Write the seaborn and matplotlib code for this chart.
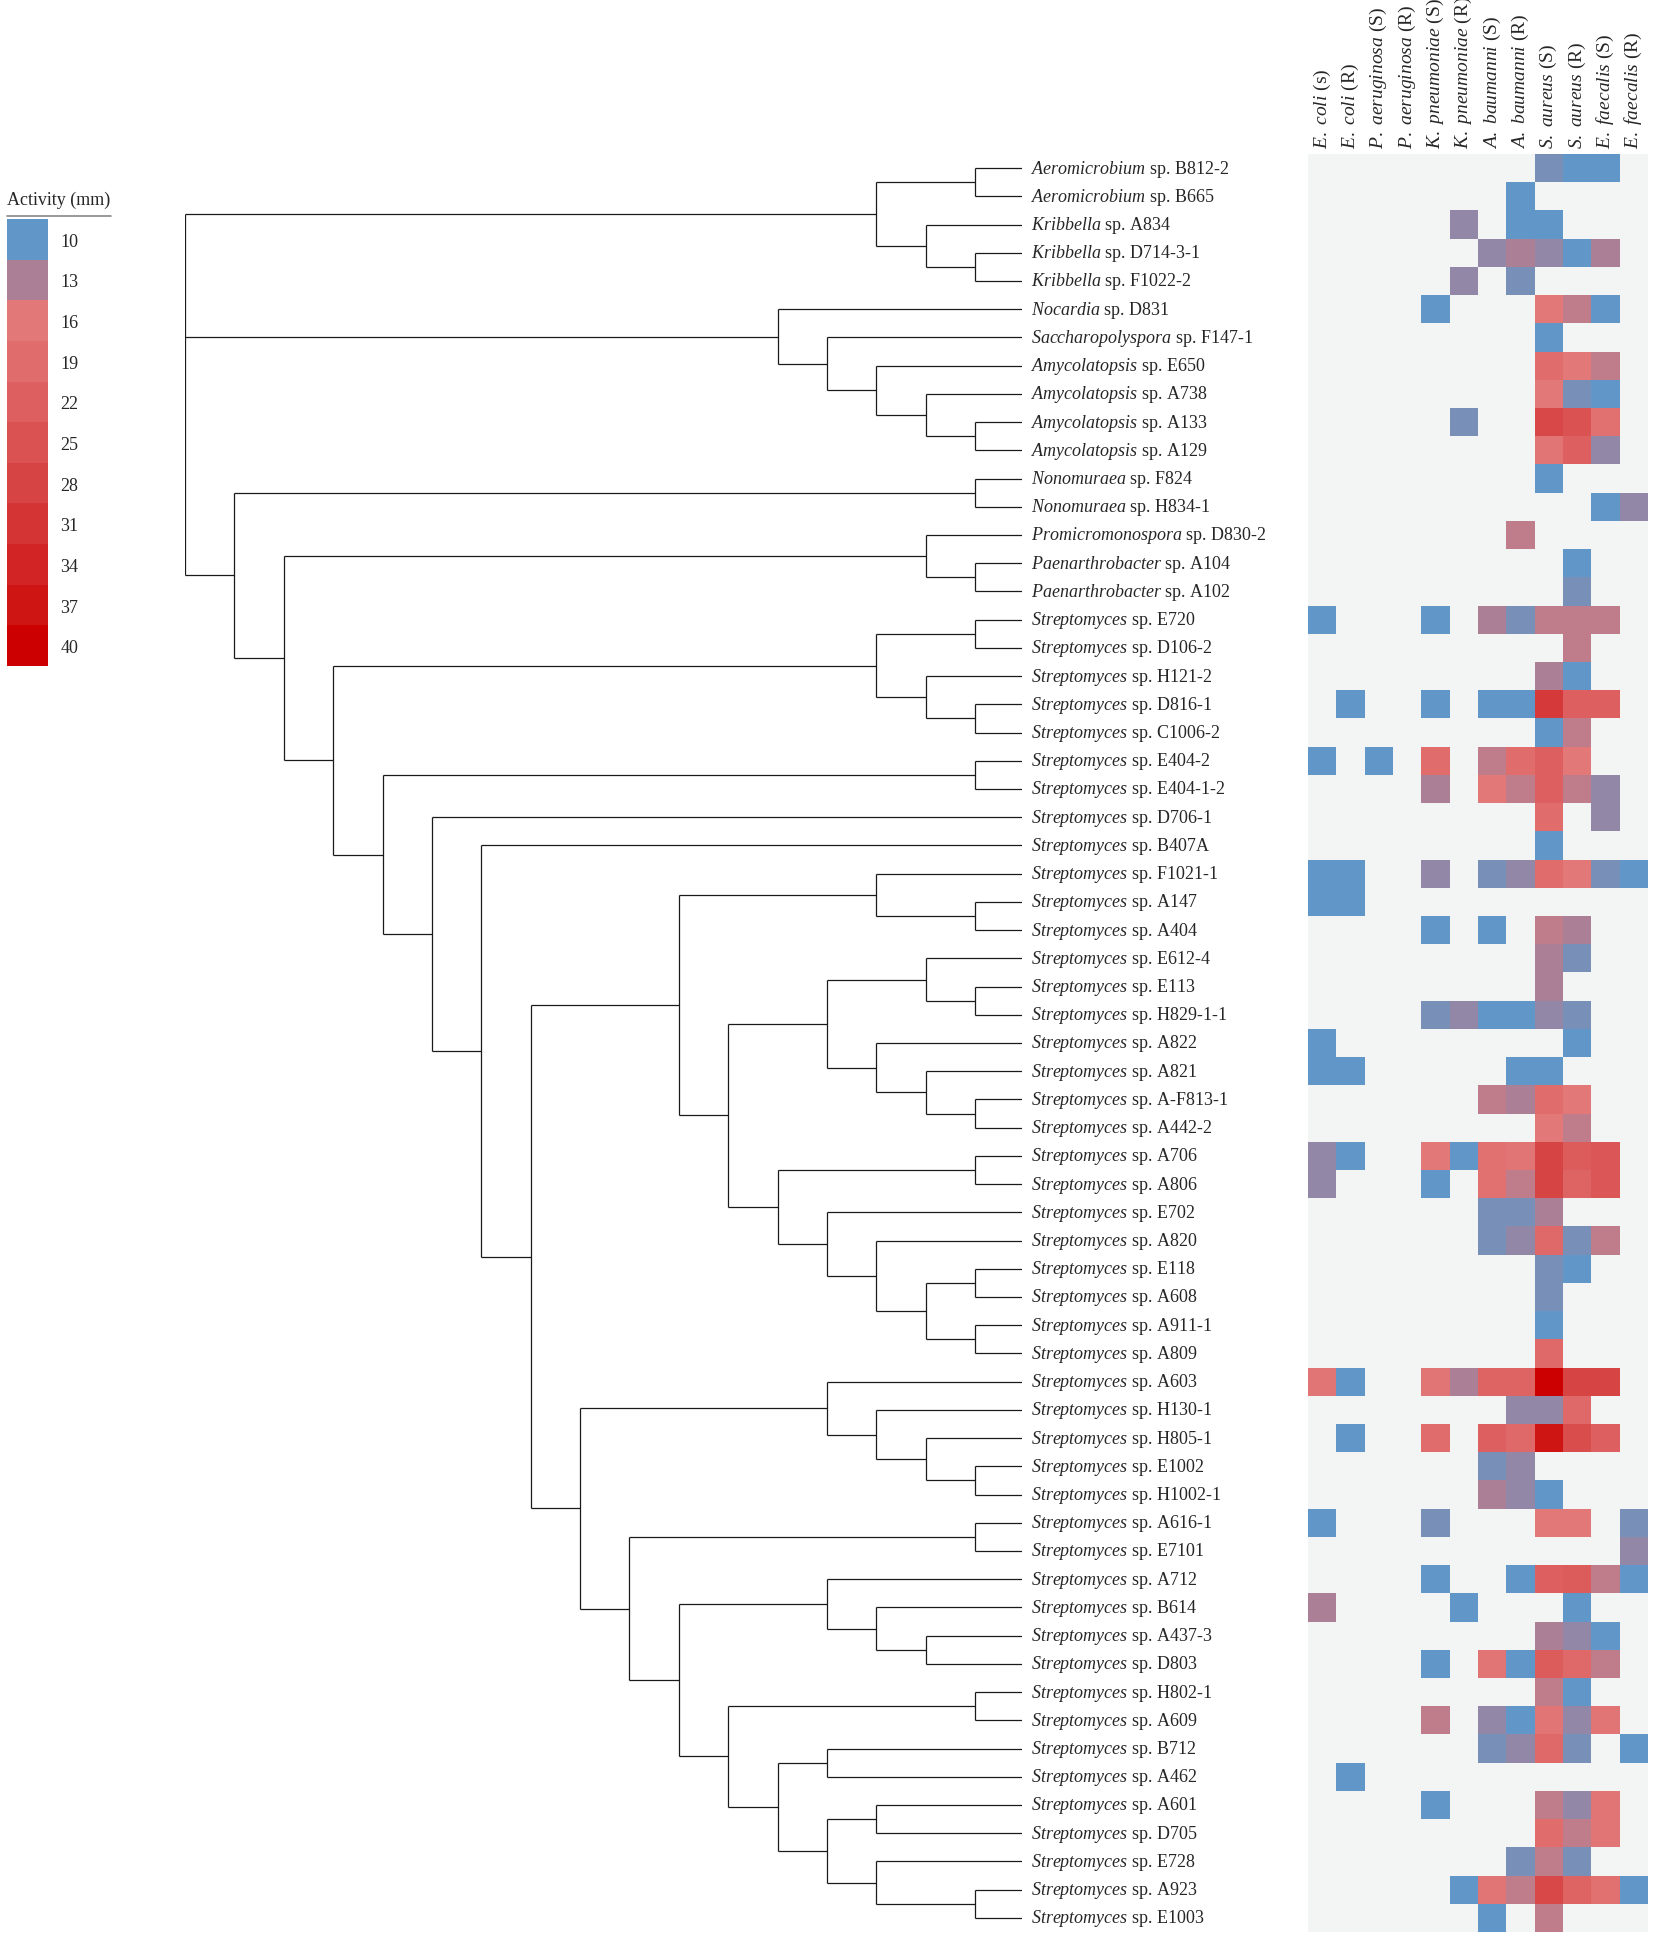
import numpy as np
import pandas as pd
import matplotlib
matplotlib.use("Agg")
import matplotlib.pyplot as plt
import seaborn as sns
from matplotlib.colors import LinearSegmentedColormap
from matplotlib.lines import Line2D

sns.set_style("white")
plt.rcParams["font.family"] = ["Liberation Serif", "DejaVu Serif"]
plt.rcParams["mathtext.fontset"] = "custom"
plt.rcParams["mathtext.rm"] = "Liberation Serif"
plt.rcParams["mathtext.it"] = "Liberation Serif:italic"

_ = np.nan

# ---- strains (rows, top to bottom) ----
genus = (["Aeromicrobium"] * 2 + ["Kribbella"] * 3 + ["Nocardia", "Saccharopolyspora"]
         + ["Amycolatopsis"] * 4 + ["Nonomuraea"] * 2 + ["Promicromonospora"]
         + ["Paenarthrobacter"] * 2 + ["Streptomyces"] * 47)
strain = ["B812-2", "B665", "A834", "D714-3-1", "F1022-2", "D831", "F147-1", "E650", "A738",
          "A133", "A129", "F824", "H834-1", "D830-2", "A104", "A102", "E720", "D106-2",
          "H121-2", "D816-1", "C1006-2", "E404-2", "E404-1-2", "D706-1", "B407A", "F1021-1",
          "A147", "A404", "E612-4", "E113", "H829-1-1", "A822", "A821", "A-F813-1", "A442-2",
          "A706", "A806", "E702", "A820", "E118", "A608", "A911-1", "A809", "A603", "H130-1",
          "H805-1", "E1002", "H1002-1", "A616-1", "E7101", "A712", "B614", "A437-3", "D803",
          "H802-1", "A609", "B712", "A462", "A601", "D705", "E728", "A923", "E1003"]

# ---- pathogens (columns) ----
pathogen = ["E. coli", "E. coli", "P. aeruginosa", "P. aeruginosa", "K. pneumoniae",
            "K. pneumoniae", "A. baumanni", "A. baumanni", "S. aureus", "S. aureus",
            "E. faecalis", "E. faecalis"]
phenotype = ["(s)", "(R)", "(S)", "(R)", "(S)", "(R)", "(S)", "(R)", "(S)", "(R)", "(S)", "(R)"]

# ---- inhibition zones (mm), NaN = no activity ----
activity = [
    [_, _, _, _, _, _, _, _, 11, 10, 10, _],
    [_, _, _, _, _, _, _, 10, _, _, _, _],
    [_, _, _, _, _, 12, _, 10, 10, _, _, _],
    [_, _, _, _, _, _, 12, 13, 12, 10, 13, _],
    [_, _, _, _, _, 12, _, 11, _, _, _, _],
    [_, _, _, _, 10, _, _, _, 16, 14, 10, _],
    [_, _, _, _, _, _, _, _, 10, _, _, _],
    [_, _, _, _, _, _, _, _, 19, 16, 14, _],
    [_, _, _, _, _, _, _, _, 16, 11, 10, _],
    [_, _, _, _, _, 11, _, _, 27, 25, 18, _],
    [_, _, _, _, _, _, _, _, 17, 22, 12, _],
    [_, _, _, _, _, _, _, _, 10, _, _, _],
    [_, _, _, _, _, _, _, _, _, _, 10, 12],
    [_, _, _, _, _, _, _, 14, _, _, _, _],
    [_, _, _, _, _, _, _, _, _, 10, _, _],
    [_, _, _, _, _, _, _, _, _, 11, _, _],
    [10, _, _, _, 10, _, 13, 11, 14, 14, 14, _],
    [_, _, _, _, _, _, _, _, _, 14, _, _],
    [_, _, _, _, _, _, _, _, 13, 10, _, _],
    [_, 10, _, _, 10, _, 10, 10, 30, 22, 22, _],
    [_, _, _, _, _, _, _, _, 10, 14, _, _],
    [10, _, 10, _, 19, _, 14, 19, 22, 16, _, _],
    [_, _, _, _, 13, _, 16, 14, 22, 14, 12, _],
    [_, _, _, _, _, _, _, _, 19, _, 12, _],
    [_, _, _, _, _, _, _, _, 10, _, _, _],
    [10, 10, _, _, 12, _, 11, 12, 19, 16, 11, 10],
    [10, 10, _, _, _, _, _, _, _, _, _, _],
    [_, _, _, _, 10, _, 10, _, 14, 13, _, _],
    [_, _, _, _, _, _, _, _, 13, 11, _, _],
    [_, _, _, _, _, _, _, _, 13, _, _, _],
    [_, _, _, _, 11, 12, 10, 10, 12, 11, _, _],
    [10, _, _, _, _, _, _, _, _, 10, _, _],
    [10, 10, _, _, _, _, _, 10, 10, _, _, _],
    [_, _, _, _, _, _, 14, 13, 19, 16, _, _],
    [_, _, _, _, _, _, _, _, 16, 14, _, _],
    [12, 10, _, _, 16, 10, 18, 17, 28, 23, 24, _],
    [12, _, _, _, 10, _, 18, 14, 28, 21, 24, _],
    [_, _, _, _, _, _, 11, 11, 13, _, _, _],
    [_, _, _, _, _, _, 11, 12, 20, 11, 14, _],
    [_, _, _, _, _, _, _, _, 11, 10, _, _],
    [_, _, _, _, _, _, _, _, 11, _, _, _],
    [_, _, _, _, _, _, _, _, 10, _, _, _],
    [_, _, _, _, _, _, _, _, 20, _, _, _],
    [17, 10, _, _, 17, 13, 21, 21, 40, 28, 28, _],
    [_, _, _, _, _, _, _, 12, 12, 20, _, _],
    [_, 10, _, _, 19, _, 22, 20, 37, 26, 22, _],
    [_, _, _, _, _, _, 11, 12, _, _, _, _],
    [_, _, _, _, _, _, 13, 12, 10, _, _, _],
    [10, _, _, _, 11, _, _, _, 16, 16, _, 11],
    [_, _, _, _, _, _, _, _, _, _, _, 12],
    [_, _, _, _, 10, _, _, 10, 22, 23, 14, 10],
    [13, _, _, _, _, 10, _, _, _, 10, _, _],
    [_, _, _, _, _, _, _, _, 13, 12, 10, _],
    [_, _, _, _, 10, _, 17, 10, 23, 20, 14, _],
    [_, _, _, _, _, _, _, _, 14, 10, _, _],
    [_, _, _, _, 14, _, 12, 10, 17, 12, 17, _],
    [_, _, _, _, _, _, 11, 12, 20, 11, _, 10],
    [_, 10, _, _, _, _, _, _, _, _, _, _],
    [_, _, _, _, 10, _, _, _, 14, 12, 17, _],
    [_, _, _, _, _, _, _, _, 19, 14, 17, _],
    [_, _, _, _, _, _, _, 11, 14, 11, _, _],
    [_, _, _, _, _, 10, 17, 14, 27, 21, 18, 10],
    [_, _, _, _, _, _, 10, _, 14, _, _, _],
]

# legend scale
legend_ticks = [10, 13, 16, 19, 22, 25, 28, 31, 34, 37, 40]
legend_colors = ["#6096c8", "#ad8096", "#e27878", "#e06c6c", "#dd5f5f", "#da5252",
                 "#d74444", "#d43434", "#d22424", "#cf1414", "#cc0000"]

# ---- cladogram: (node level, children); ints are leaf rows ----
t_aero = (14, [(16, [0, 1]), (15, [2, (16, [3, 4])])])
t_noc = (12, [5, (13, [6, (14, [7, (15, [8, (16, [9, 10])])])])])
t_non = (16, [11, 12])
t_pae = (15, [13, (16, [14, 15])])
t_e720 = (14, [(16, [16, 17]), (15, [18, (16, [19, 20])])])
t_e404 = (16, [21, 22])
t_f1021 = (14, [25, (16, [26, 27])])
t_e612 = (15, [28, (16, [29, 30])])
t_a822 = (14, [31, (15, [32, (16, [33, 34])])])
t_a706 = (12, [(16, [35, 36]), (13, [37, (14, [38, (15, [(16, [39, 40]), (16, [41, 42])])])])])
t_a603 = (13, [43, (14, [44, (15, [45, (16, [46, 47])])])])
t_a616 = (16, [48, 49])
t_a712 = (13, [50, (14, [51, (15, [52, 53])])])
t_h802 = (16, [54, 55])
t_b712 = (13, [56, 57])
t_a601 = (13, [(14, [58, 59]), (14, [60, (16, [61, 62])])])

clade_a = (10, [t_f1021, (11, [(13, [t_e612, t_a822]), t_a706])])
clade_b = (8, [t_a603, (9, [t_a616, (10, [t_a712, (11, [t_h802, (12, [t_b712, t_a601])])])])])
tree = (0, [t_aero, t_noc,
            (1, [t_non, (2, [t_pae, (3, [t_e720, (4, [t_e404, (5, [23, (6, [24, (7, [clade_a, clade_b])])])])])])])])
LEAF_LEVEL = 16.95

df = pd.DataFrame(activity, index=[f"{g} sp. {s}" for g, s in zip(genus, strain)],
                  columns=[f"{p} {r}" for p, r in zip(pathogen, phenotype)])

cmap = LinearSegmentedColormap.from_list(
    "act", [((v - 10) / 30, c) for v, c in zip(legend_ticks, legend_colors)])

W, H = 1654, 1940
fig = plt.figure(figsize=(W / 100, H / 100), dpi=100)

# heatmap
hm_top, hm_bot = 155, 1933
ax = fig.add_axes([1308 / W, 1 - hm_bot / H, 340 / W, (hm_bot - hm_top) / H])
ax.set_facecolor("#f3f4f4")
sns.heatmap(df, ax=ax, cmap=cmap, vmin=10, vmax=40, cbar=False, linewidths=0,
            xticklabels=True, yticklabels=False)
ax.xaxis.set_ticks_position("top")
ax.set_xticklabels([r"$\mathit{" + p.replace(" ", r"\ ") + "}$ " + r
                    for p, r in zip(pathogen, phenotype)],
                   rotation=90, fontsize=14, va="bottom")
ax.tick_params(length=0, pad=4)
ax.set_xlabel("")
ax.set_ylabel("")

# cladogram + labels
axd = fig.add_axes([185 / W, 1 - hm_bot / H, (1022 - 185) / W, (hm_bot - hm_top) / H])
axd.set_xlim(0, LEAF_LEVEL)
axd.set_ylim(len(strain), 0)
axd.axis("off")


def draw(node):
    if isinstance(node, int):
        return node + 0.5
    lvl, kids = node
    ys = [draw(k) for k in kids]
    for k, y in zip(kids, ys):
        kx = LEAF_LEVEL if isinstance(k, int) else k[0]
        axd.plot([lvl, kx], [y, y], color="#1a1a1a", lw=0.9, solid_capstyle="butt")
    axd.plot([lvl, lvl], [ys[0], ys[-1]], color="#1a1a1a", lw=0.9, solid_capstyle="butt")
    return (ys[0] + ys[-1]) / 2


draw(tree)
for i, (g, s) in enumerate(zip(genus, strain)):
    axd.text(LEAF_LEVEL + 0.18, i + 0.5, r"$\mathit{" + g + "}$ sp. " + s,
             fontsize=13, va="center", ha="left", clip_on=False)

# legend
axl = fig.add_axes([7 / W, 1 - 667 / H, 41 / W, 447 / H])
sns.heatmap(pd.DataFrame({"v": legend_ticks}), ax=axl, cmap=cmap, vmin=10, vmax=40,
            cbar=False, xticklabels=False, yticklabels=legend_ticks)
axl.yaxis.tick_right()
axl.set_yticklabels([str(t) for t in legend_ticks], rotation=0, fontsize=13)
axl.tick_params(length=0, pad=9)
axl.set_ylabel("")
fig.text(7 / W, 1 - 200 / H, "Activity (mm)", fontsize=13, ha="left", va="center")
fig.add_artist(Line2D([7 / W, 111 / W], [1 - 217 / H, 1 - 217 / H], color="#888888", lw=1.2))

fig.savefig("out.png", dpi=100, facecolor="white")
